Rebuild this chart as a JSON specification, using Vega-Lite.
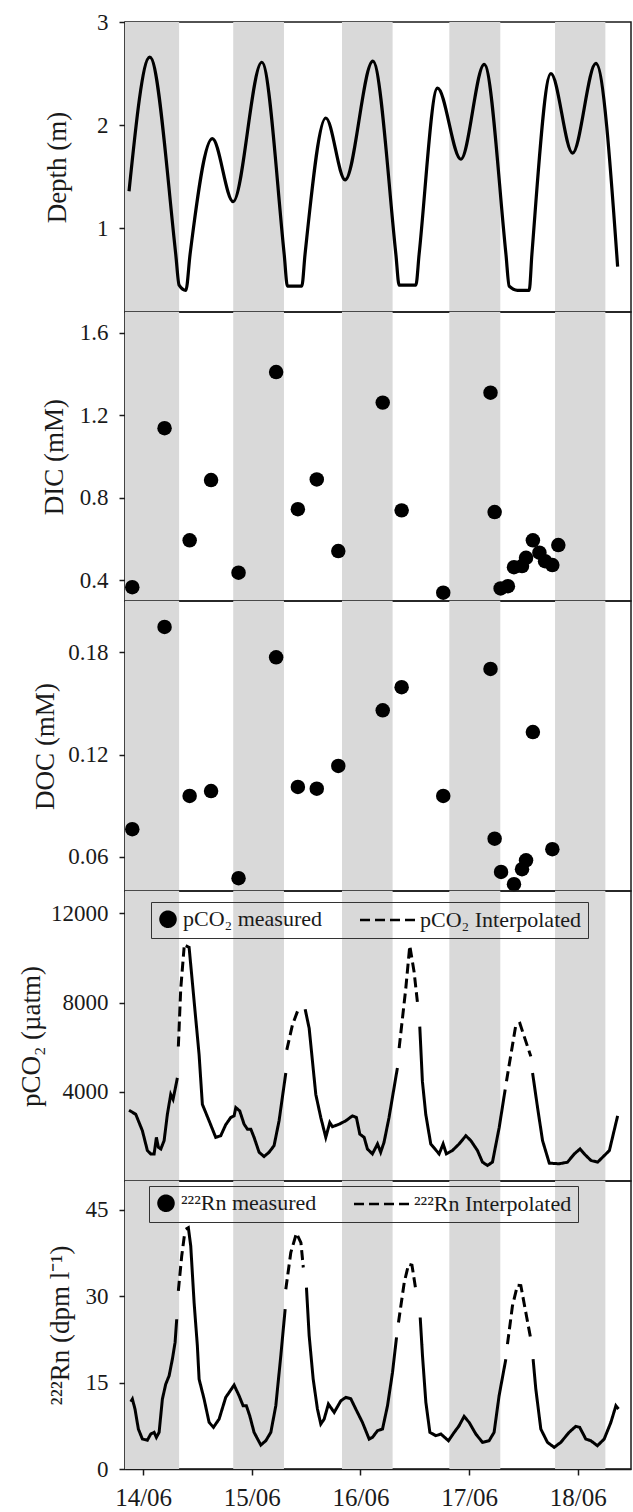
{
  "$schema": "https://vega.github.io/schema/vega-lite/v6.json",
  "autosize": {"type": "pad"},
  "padding": {"left": 16, "top": 10, "right": 0, "bottom": 0},
  "background": "white",
  "bounds": "flush",
  "spacing": 0,
  "resolve": {"scale": {"x": "independent", "y": "independent", "strokeDash": "independent"}, "legend": {"strokeDash": "independent"}},
  "datasets": {
    "bands": [
      {"start": 13.833, "end": 14.331},
      {"start": 14.829, "end": 15.296},
      {"start": 15.830, "end": 16.296},
      {"start": 16.818, "end": 17.287},
      {"start": 17.791, "end": 18.254}
    ],
    "depth": [
      {"day": 13.87, "depth": 1.36}, {"day": 14.061, "depth": 2.66}, {"day": 14.30, "depth": 0.75},
      {"day": 14.331, "depth": 0.45}, {"day": 14.393, "depth": 0.40}, {"day": 14.432, "depth": 0.75},
      {"day": 14.637, "depth": 1.87}, {"day": 14.828, "depth": 1.26}, {"day": 15.092, "depth": 2.61},
      {"day": 15.298, "depth": 0.75}, {"day": 15.328, "depth": 0.44}, {"day": 15.46, "depth": 0.44},
      {"day": 15.49, "depth": 0.75}, {"day": 15.681, "depth": 2.07}, {"day": 15.859, "depth": 1.47},
      {"day": 16.114, "depth": 2.62}, {"day": 16.326, "depth": 0.75}, {"day": 16.356, "depth": 0.45},
      {"day": 16.51, "depth": 0.45}, {"day": 16.54, "depth": 0.75}, {"day": 16.709, "depth": 2.36},
      {"day": 16.924, "depth": 1.67}, {"day": 17.139, "depth": 2.59}, {"day": 17.339, "depth": 0.75},
      {"day": 17.369, "depth": 0.44}, {"day": 17.446, "depth": 0.40}, {"day": 17.553, "depth": 0.40},
      {"day": 17.578, "depth": 0.75}, {"day": 17.753, "depth": 2.50}, {"day": 17.952, "depth": 1.73},
      {"day": 18.167, "depth": 2.60}, {"day": 18.367, "depth": 0.63}
    ],
    "dic": [
      {"day": 13.900, "dic": 0.367}, {"day": 14.197, "dic": 1.137}, {"day": 14.428, "dic": 0.594},
      {"day": 14.625, "dic": 0.886}, {"day": 14.878, "dic": 0.437}, {"day": 15.224, "dic": 1.409},
      {"day": 15.424, "dic": 0.745}, {"day": 15.598, "dic": 0.889}, {"day": 15.796, "dic": 0.542},
      {"day": 16.205, "dic": 1.261}, {"day": 16.379, "dic": 0.739}, {"day": 16.762, "dic": 0.340},
      {"day": 17.197, "dic": 1.309}, {"day": 17.235, "dic": 0.731}, {"day": 17.290, "dic": 0.361},
      {"day": 17.357, "dic": 0.372}, {"day": 17.413, "dic": 0.464}, {"day": 17.487, "dic": 0.469},
      {"day": 17.524, "dic": 0.509}, {"day": 17.587, "dic": 0.594}, {"day": 17.647, "dic": 0.534},
      {"day": 17.699, "dic": 0.493}, {"day": 17.766, "dic": 0.474}, {"day": 17.821, "dic": 0.571}
    ],
    "doc": [
      {"day": 13.900, "doc": 0.0762}, {"day": 14.197, "doc": 0.1948}, {"day": 14.428, "doc": 0.0957},
      {"day": 14.625, "doc": 0.0986}, {"day": 14.878, "doc": 0.0475}, {"day": 15.224, "doc": 0.177},
      {"day": 15.424, "doc": 0.101}, {"day": 15.598, "doc": 0.100}, {"day": 15.796, "doc": 0.1133},
      {"day": 16.205, "doc": 0.1459}, {"day": 16.379, "doc": 0.1595}, {"day": 16.762, "doc": 0.0957},
      {"day": 17.197, "doc": 0.1702}, {"day": 17.235, "doc": 0.0707}, {"day": 17.294, "doc": 0.0512},
      {"day": 17.413, "doc": 0.044}, {"day": 17.487, "doc": 0.0528}, {"day": 17.524, "doc": 0.058},
      {"day": 17.587, "doc": 0.1332}, {"day": 17.766, "doc": 0.0645}
    ],
    "pco2": [
      {"day": 13.870, "v": 3170, "kind": "measured", "seg": 1},
      {"day": 13.932, "v": 2990, "kind": "measured", "seg": 1},
      {"day": 13.993, "v": 2254, "kind": "measured", "seg": 1},
      {"day": 14.039, "v": 1365, "kind": "measured", "seg": 1},
      {"day": 14.070, "v": 1214, "kind": "measured", "seg": 1},
      {"day": 14.101, "v": 1214, "kind": "measured", "seg": 1},
      {"day": 14.122, "v": 1956, "kind": "measured", "seg": 1},
      {"day": 14.140, "v": 1512, "kind": "measured", "seg": 1},
      {"day": 14.163, "v": 1437, "kind": "measured", "seg": 1},
      {"day": 14.193, "v": 1810, "kind": "measured", "seg": 1},
      {"day": 14.223, "v": 2990, "kind": "measured", "seg": 1},
      {"day": 14.254, "v": 3880, "kind": "measured", "seg": 1},
      {"day": 14.275, "v": 3659, "kind": "measured", "seg": 1},
      {"day": 14.294, "v": 4103, "kind": "measured", "seg": 1},
      {"day": 14.315, "v": 4623, "kind": "measured", "seg": 1},
      {"day": 14.324, "v": 6030, "kind": "Interpolated", "seg": 2},
      {"day": 14.346, "v": 8622, "kind": "Interpolated", "seg": 2},
      {"day": 14.377, "v": 10476, "kind": "Interpolated", "seg": 2},
      {"day": 14.392, "v": 10547, "kind": "measured", "seg": 3},
      {"day": 14.423, "v": 10476, "kind": "measured", "seg": 3},
      {"day": 14.515, "v": 5658, "kind": "measured", "seg": 3},
      {"day": 14.545, "v": 3437, "kind": "measured", "seg": 3},
      {"day": 14.607, "v": 2698, "kind": "measured", "seg": 3},
      {"day": 14.668, "v": 1956, "kind": "measured", "seg": 3},
      {"day": 14.714, "v": 2030, "kind": "measured", "seg": 3},
      {"day": 14.760, "v": 2521, "kind": "measured", "seg": 3},
      {"day": 14.806, "v": 2845, "kind": "measured", "seg": 3},
      {"day": 14.837, "v": 2920, "kind": "measured", "seg": 3},
      {"day": 14.853, "v": 3290, "kind": "measured", "seg": 3},
      {"day": 14.889, "v": 3142, "kind": "measured", "seg": 3},
      {"day": 14.929, "v": 2547, "kind": "measured", "seg": 3},
      {"day": 14.960, "v": 2325, "kind": "measured", "seg": 3},
      {"day": 14.991, "v": 2325, "kind": "measured", "seg": 3},
      {"day": 15.021, "v": 1956, "kind": "measured", "seg": 3},
      {"day": 15.067, "v": 1289, "kind": "measured", "seg": 3},
      {"day": 15.113, "v": 1098, "kind": "measured", "seg": 3},
      {"day": 15.159, "v": 1289, "kind": "measured", "seg": 3},
      {"day": 15.205, "v": 1586, "kind": "measured", "seg": 3},
      {"day": 15.251, "v": 2698, "kind": "measured", "seg": 3},
      {"day": 15.313, "v": 4845, "kind": "measured", "seg": 3},
      {"day": 15.322, "v": 5880, "kind": "Interpolated", "seg": 4},
      {"day": 15.374, "v": 6994, "kind": "Interpolated", "seg": 4},
      {"day": 15.436, "v": 7809, "kind": "Interpolated", "seg": 4},
      {"day": 15.491, "v": 7702, "kind": "measured", "seg": 5},
      {"day": 15.528, "v": 6845, "kind": "measured", "seg": 5},
      {"day": 15.589, "v": 3880, "kind": "measured", "seg": 5},
      {"day": 15.635, "v": 2845, "kind": "measured", "seg": 5},
      {"day": 15.681, "v": 1956, "kind": "measured", "seg": 5},
      {"day": 15.718, "v": 2623, "kind": "measured", "seg": 5},
      {"day": 15.742, "v": 2432, "kind": "measured", "seg": 5},
      {"day": 15.804, "v": 2547, "kind": "measured", "seg": 5},
      {"day": 15.865, "v": 2698, "kind": "measured", "seg": 5},
      {"day": 15.926, "v": 2920, "kind": "measured", "seg": 5},
      {"day": 15.963, "v": 2845, "kind": "measured", "seg": 5},
      {"day": 15.994, "v": 2104, "kind": "measured", "seg": 5},
      {"day": 16.034, "v": 1956, "kind": "measured", "seg": 5},
      {"day": 16.064, "v": 1437, "kind": "measured", "seg": 5},
      {"day": 16.110, "v": 1214, "kind": "measured", "seg": 5},
      {"day": 16.157, "v": 1660, "kind": "measured", "seg": 5},
      {"day": 16.186, "v": 1289, "kind": "measured", "seg": 5},
      {"day": 16.217, "v": 1734, "kind": "measured", "seg": 5},
      {"day": 16.263, "v": 2845, "kind": "measured", "seg": 5},
      {"day": 16.340, "v": 5067, "kind": "measured", "seg": 5},
      {"day": 16.356, "v": 5956, "kind": "Interpolated", "seg": 6},
      {"day": 16.417, "v": 8622, "kind": "Interpolated", "seg": 6},
      {"day": 16.454, "v": 10547, "kind": "Interpolated", "seg": 6},
      {"day": 16.494, "v": 9365, "kind": "Interpolated", "seg": 6},
      {"day": 16.524, "v": 8031, "kind": "Interpolated", "seg": 6},
      {"day": 16.546, "v": 6920, "kind": "measured", "seg": 7},
      {"day": 16.570, "v": 4476, "kind": "measured", "seg": 7},
      {"day": 16.601, "v": 2990, "kind": "measured", "seg": 7},
      {"day": 16.647, "v": 1660, "kind": "measured", "seg": 7},
      {"day": 16.724, "v": 1214, "kind": "measured", "seg": 7},
      {"day": 16.761, "v": 1660, "kind": "measured", "seg": 7},
      {"day": 16.791, "v": 1214, "kind": "measured", "seg": 7},
      {"day": 16.846, "v": 1365, "kind": "measured", "seg": 7},
      {"day": 16.908, "v": 1660, "kind": "measured", "seg": 7},
      {"day": 16.970, "v": 2030, "kind": "measured", "seg": 7},
      {"day": 17.016, "v": 1810, "kind": "measured", "seg": 7},
      {"day": 17.077, "v": 1365, "kind": "measured", "seg": 7},
      {"day": 17.123, "v": 845, "kind": "measured", "seg": 7},
      {"day": 17.169, "v": 697, "kind": "measured", "seg": 7},
      {"day": 17.215, "v": 845, "kind": "measured", "seg": 7},
      {"day": 17.277, "v": 2400, "kind": "measured", "seg": 7},
      {"day": 17.332, "v": 4103, "kind": "measured", "seg": 7},
      {"day": 17.344, "v": 4476, "kind": "Interpolated", "seg": 8},
      {"day": 17.430, "v": 6994, "kind": "Interpolated", "seg": 8},
      {"day": 17.467, "v": 7067, "kind": "Interpolated", "seg": 8},
      {"day": 17.568, "v": 5586, "kind": "Interpolated", "seg": 8},
      {"day": 17.584, "v": 4845, "kind": "measured", "seg": 9},
      {"day": 17.630, "v": 3290, "kind": "measured", "seg": 9},
      {"day": 17.676, "v": 1810, "kind": "measured", "seg": 9},
      {"day": 17.738, "v": 801, "kind": "measured", "seg": 9},
      {"day": 17.830, "v": 771, "kind": "measured", "seg": 9},
      {"day": 17.906, "v": 845, "kind": "measured", "seg": 9},
      {"day": 17.968, "v": 1214, "kind": "measured", "seg": 9},
      {"day": 18.021, "v": 1437, "kind": "measured", "seg": 9},
      {"day": 18.060, "v": 1214, "kind": "measured", "seg": 9},
      {"day": 18.122, "v": 919, "kind": "measured", "seg": 9},
      {"day": 18.183, "v": 845, "kind": "measured", "seg": 9},
      {"day": 18.229, "v": 1067, "kind": "measured", "seg": 9},
      {"day": 18.291, "v": 1365, "kind": "measured", "seg": 9},
      {"day": 18.367, "v": 2920, "kind": "measured", "seg": 9}
    ],
    "rn": [
      {"day": 13.886, "v": 11.67, "kind": "measured", "seg": 1},
      {"day": 13.901, "v": 12.14, "kind": "measured", "seg": 1},
      {"day": 13.925, "v": 10.41, "kind": "measured", "seg": 1},
      {"day": 13.956, "v": 6.94, "kind": "measured", "seg": 1},
      {"day": 13.993, "v": 5.2, "kind": "measured", "seg": 1},
      {"day": 14.039, "v": 5.0, "kind": "measured", "seg": 1},
      {"day": 14.070, "v": 6.07, "kind": "measured", "seg": 1},
      {"day": 14.101, "v": 6.36, "kind": "measured", "seg": 1},
      {"day": 14.122, "v": 5.5, "kind": "measured", "seg": 1},
      {"day": 14.147, "v": 6.36, "kind": "measured", "seg": 1},
      {"day": 14.177, "v": 12.14, "kind": "measured", "seg": 1},
      {"day": 14.208, "v": 14.74, "kind": "measured", "seg": 1},
      {"day": 14.239, "v": 16.18, "kind": "measured", "seg": 1},
      {"day": 14.269, "v": 19.07, "kind": "measured", "seg": 1},
      {"day": 14.294, "v": 21.97, "kind": "measured", "seg": 1},
      {"day": 14.309, "v": 26.0, "kind": "measured", "seg": 1},
      {"day": 14.324, "v": 30.92, "kind": "Interpolated", "seg": 2},
      {"day": 14.355, "v": 36.99, "kind": "Interpolated", "seg": 2},
      {"day": 14.383, "v": 41.04, "kind": "Interpolated", "seg": 2},
      {"day": 14.392, "v": 41.62, "kind": "measured", "seg": 3},
      {"day": 14.416, "v": 41.9, "kind": "measured", "seg": 3},
      {"day": 14.438, "v": 38.73, "kind": "measured", "seg": 3},
      {"day": 14.469, "v": 28.9, "kind": "measured", "seg": 3},
      {"day": 14.499, "v": 21.38, "kind": "measured", "seg": 3},
      {"day": 14.515, "v": 15.6, "kind": "measured", "seg": 3},
      {"day": 14.561, "v": 12.14, "kind": "measured", "seg": 3},
      {"day": 14.607, "v": 8.1, "kind": "measured", "seg": 3},
      {"day": 14.647, "v": 7.23, "kind": "measured", "seg": 3},
      {"day": 14.699, "v": 8.67, "kind": "measured", "seg": 3},
      {"day": 14.760, "v": 12.43, "kind": "measured", "seg": 3},
      {"day": 14.837, "v": 14.57, "kind": "measured", "seg": 3},
      {"day": 14.883, "v": 12.72, "kind": "measured", "seg": 3},
      {"day": 14.920, "v": 10.98, "kind": "measured", "seg": 3},
      {"day": 14.950, "v": 10.98, "kind": "measured", "seg": 3},
      {"day": 14.981, "v": 9.24, "kind": "measured", "seg": 3},
      {"day": 15.021, "v": 6.36, "kind": "measured", "seg": 3},
      {"day": 15.083, "v": 4.16, "kind": "measured", "seg": 3},
      {"day": 15.129, "v": 4.91, "kind": "measured", "seg": 3},
      {"day": 15.175, "v": 6.36, "kind": "measured", "seg": 3},
      {"day": 15.221, "v": 10.98, "kind": "measured", "seg": 3},
      {"day": 15.267, "v": 19.65, "kind": "measured", "seg": 3},
      {"day": 15.307, "v": 27.75, "kind": "measured", "seg": 3},
      {"day": 15.313, "v": 31.21, "kind": "Interpolated", "seg": 4},
      {"day": 15.359, "v": 37.58, "kind": "Interpolated", "seg": 4},
      {"day": 15.411, "v": 40.93, "kind": "Interpolated", "seg": 4},
      {"day": 15.452, "v": 39.31, "kind": "Interpolated", "seg": 4},
      {"day": 15.474, "v": 34.98, "kind": "Interpolated", "seg": 4},
      {"day": 15.503, "v": 31.5, "kind": "measured", "seg": 5},
      {"day": 15.528, "v": 23.12, "kind": "measured", "seg": 5},
      {"day": 15.565, "v": 15.6, "kind": "measured", "seg": 5},
      {"day": 15.604, "v": 10.41, "kind": "measured", "seg": 5},
      {"day": 15.635, "v": 7.8, "kind": "measured", "seg": 5},
      {"day": 15.666, "v": 8.67, "kind": "measured", "seg": 5},
      {"day": 15.705, "v": 11.27, "kind": "measured", "seg": 5},
      {"day": 15.758, "v": 9.83, "kind": "measured", "seg": 5},
      {"day": 15.820, "v": 11.85, "kind": "measured", "seg": 5},
      {"day": 15.865, "v": 12.43, "kind": "measured", "seg": 5},
      {"day": 15.911, "v": 12.2, "kind": "measured", "seg": 5},
      {"day": 15.957, "v": 10.41, "kind": "measured", "seg": 5},
      {"day": 16.018, "v": 8.1, "kind": "measured", "seg": 5},
      {"day": 16.080, "v": 5.2, "kind": "measured", "seg": 5},
      {"day": 16.111, "v": 5.5, "kind": "measured", "seg": 5},
      {"day": 16.157, "v": 6.65, "kind": "measured", "seg": 5},
      {"day": 16.203, "v": 6.94, "kind": "measured", "seg": 5},
      {"day": 16.249, "v": 10.98, "kind": "measured", "seg": 5},
      {"day": 16.295, "v": 16.77, "kind": "measured", "seg": 5},
      {"day": 16.332, "v": 22.84, "kind": "measured", "seg": 5},
      {"day": 16.350, "v": 25.44, "kind": "Interpolated", "seg": 6},
      {"day": 16.403, "v": 32.38, "kind": "Interpolated", "seg": 6},
      {"day": 16.443, "v": 35.55, "kind": "Interpolated", "seg": 6},
      {"day": 16.474, "v": 35.4, "kind": "Interpolated", "seg": 6},
      {"day": 16.511, "v": 30.92, "kind": "Interpolated", "seg": 6},
      {"day": 16.550, "v": 26.3, "kind": "measured", "seg": 7},
      {"day": 16.571, "v": 19.65, "kind": "measured", "seg": 7},
      {"day": 16.602, "v": 11.57, "kind": "measured", "seg": 7},
      {"day": 16.639, "v": 6.36, "kind": "measured", "seg": 7},
      {"day": 16.694, "v": 5.78, "kind": "measured", "seg": 7},
      {"day": 16.740, "v": 6.07, "kind": "measured", "seg": 7},
      {"day": 16.810, "v": 4.91, "kind": "measured", "seg": 7},
      {"day": 16.863, "v": 6.36, "kind": "measured", "seg": 7},
      {"day": 16.908, "v": 7.51, "kind": "measured", "seg": 7},
      {"day": 16.954, "v": 9.13, "kind": "measured", "seg": 7},
      {"day": 17.000, "v": 8.1, "kind": "measured", "seg": 7},
      {"day": 17.062, "v": 6.07, "kind": "measured", "seg": 7},
      {"day": 17.123, "v": 4.63, "kind": "measured", "seg": 7},
      {"day": 17.184, "v": 4.91, "kind": "measured", "seg": 7},
      {"day": 17.230, "v": 6.36, "kind": "measured", "seg": 7},
      {"day": 17.276, "v": 12.72, "kind": "measured", "seg": 7},
      {"day": 17.338, "v": 19.07, "kind": "measured", "seg": 7},
      {"day": 17.353, "v": 21.68, "kind": "Interpolated", "seg": 8},
      {"day": 17.399, "v": 28.32, "kind": "Interpolated", "seg": 8},
      {"day": 17.445, "v": 31.91, "kind": "Interpolated", "seg": 8},
      {"day": 17.476, "v": 31.85, "kind": "Interpolated", "seg": 8},
      {"day": 17.522, "v": 27.17, "kind": "Interpolated", "seg": 8},
      {"day": 17.568, "v": 22.54, "kind": "Interpolated", "seg": 8},
      {"day": 17.589, "v": 19.07, "kind": "measured", "seg": 9},
      {"day": 17.614, "v": 13.87, "kind": "measured", "seg": 9},
      {"day": 17.660, "v": 6.94, "kind": "measured", "seg": 9},
      {"day": 17.721, "v": 4.63, "kind": "measured", "seg": 9},
      {"day": 17.783, "v": 3.76, "kind": "measured", "seg": 9},
      {"day": 17.844, "v": 4.63, "kind": "measured", "seg": 9},
      {"day": 17.920, "v": 6.36, "kind": "measured", "seg": 9},
      {"day": 17.982, "v": 7.41, "kind": "measured", "seg": 9},
      {"day": 18.018, "v": 7.23, "kind": "measured", "seg": 9},
      {"day": 18.074, "v": 5.2, "kind": "measured", "seg": 9},
      {"day": 18.120, "v": 4.91, "kind": "measured", "seg": 9},
      {"day": 18.181, "v": 4.04, "kind": "measured", "seg": 9},
      {"day": 18.243, "v": 5.2, "kind": "measured", "seg": 9},
      {"day": 18.305, "v": 8.1, "kind": "measured", "seg": 9},
      {"day": 18.351, "v": 10.98, "kind": "measured", "seg": 9},
      {"day": 18.375, "v": 10.41, "kind": "measured", "seg": 9}
    ]
  },
  "vconcat": [
    {
      "width": 506, "height": 290,
      "layer": [
        {"data": {"name": "bands"}, "mark": {"type": "rect", "color": "#d9d9d9"},
         "encoding": {"x": {"field": "start", "type": "quantitative", "scale": {"domain": [13.833, 18.49], "nice": false}, "axis": null}, "x2": {"field": "end"}}},
        {"data": {"name": "depth"}, "mark": {"type": "line", "color": "black", "strokeWidth": 3.2, "interpolate": "monotone"},
         "encoding": {
           "x": {"field": "day", "type": "quantitative", "scale": {"domain": [13.833, 18.49], "nice": false}, "axis": null},
           "y": {"field": "depth", "type": "quantitative", "scale": {"domain": [0.19, 3], "nice": false, "zero": false},
                 "axis": {"title": "Depth (m)", "values": [1, 2, 3], "format": "d", "titleX": -60}}
         }}
      ]
    },
    {
      "width": 506, "height": 289,
      "layer": [
        {"data": {"name": "bands"}, "mark": {"type": "rect", "color": "#d9d9d9"},
         "encoding": {"x": {"field": "start", "type": "quantitative", "scale": {"domain": [13.833, 18.49], "nice": false}, "axis": null}, "x2": {"field": "end"}}},
        {"data": {"name": "dic"}, "mark": {"type": "circle", "color": "black", "size": 210, "opacity": 1},
         "encoding": {
           "x": {"field": "day", "type": "quantitative", "scale": {"domain": [13.833, 18.49], "nice": false}, "axis": null},
           "y": {"field": "dic", "type": "quantitative", "scale": {"domain": [0.3, 1.7], "nice": false, "zero": false},
                 "axis": {"title": "DIC (mM)", "values": [0.4, 0.8, 1.2, 1.6], "format": ".1f", "titleX": -63}}
         }}
      ]
    },
    {
      "width": 506, "height": 290,
      "layer": [
        {"data": {"name": "bands"}, "mark": {"type": "rect", "color": "#d9d9d9"},
         "encoding": {"x": {"field": "start", "type": "quantitative", "scale": {"domain": [13.833, 18.49], "nice": false}, "axis": null}, "x2": {"field": "end"}}},
        {"data": {"name": "doc"}, "mark": {"type": "circle", "color": "black", "size": 210, "opacity": 1},
         "encoding": {
           "x": {"field": "day", "type": "quantitative", "scale": {"domain": [13.833, 18.49], "nice": false}, "axis": null},
           "y": {"field": "doc", "type": "quantitative", "scale": {"domain": [0.04, 0.21], "nice": false, "zero": false},
                 "axis": {"title": "DOC (mM)", "values": [0.06, 0.12, 0.18], "format": ".2f", "titleX": -72}}
         }}
      ]
    },
    {
      "width": 506, "height": 290,
      "layer": [
        {"data": {"name": "bands"}, "mark": {"type": "rect", "color": "#d9d9d9"},
         "encoding": {"x": {"field": "start", "type": "quantitative", "scale": {"domain": [13.833, 18.49], "nice": false}, "axis": null}, "x2": {"field": "end"}}},
        {"data": {"name": "pco2"}, "mark": {"type": "line", "color": "black", "strokeWidth": 3},
         "encoding": {
           "x": {"field": "day", "type": "quantitative", "scale": {"domain": [13.833, 18.49], "nice": false}, "axis": null},
           "y": {"field": "v", "type": "quantitative", "scale": {"domain": [0, 13000], "nice": false},
                 "axis": {"title": "pCO₂ (µatm)", "values": [4000, 8000, 12000], "format": "d", "titleX": -86}},
           "detail": {"field": "seg", "type": "nominal"},
           "strokeDash": {"field": "kind", "type": "nominal",
             "scale": {"domain": ["measured", "Interpolated"], "range": [[1, 0], [10, 5]]},
             "legend": {"orient": "none", "legendX": 26, "legendY": 11, "direction": "horizontal", "columns": 2,
               "title": null, "labelExpr": "'pCO₂ ' + datum.label",
               "strokeColor": "#333333", "padding": 6,
               "labelFont": "Liberation Serif", "labelFontSize": 22, "labelColor": "#1a1a1a", "labelOffset": 4, "labelLimit": 0,
               "columnPadding": 32, "symbolSize": 225, "symbolStrokeWidth": 2.5, "symbolStrokeColor": "black",
               "symbolType": {"expr": "datum.index === 0 ? 'circle' : 'M-6,0H1.8'"},
               "symbolFillColor": {"expr": "datum.index === 0 ? 'black' : 'transparent'"}}
           }
         }}
      ]
    },
    {
      "width": 506, "height": 288,
      "layer": [
        {"data": {"name": "bands"}, "mark": {"type": "rect", "color": "#d9d9d9"},
         "encoding": {"x": {"field": "start", "type": "quantitative", "scale": {"domain": [13.833, 18.49], "nice": false},
                            "axis": {"title": null, "values": [14, 15, 16, 17, 18], "labelExpr": "datum.value + '/06'", "labelFontSize": 25, "labelPadding": 10}},
                      "x2": {"field": "end"}}},
        {"data": {"name": "rn"}, "mark": {"type": "line", "color": "black", "strokeWidth": 3},
         "encoding": {
           "x": {"field": "day", "type": "quantitative", "scale": {"domain": [13.833, 18.49], "nice": false},
                 "axis": {"title": null, "values": [14, 15, 16, 17, 18], "labelExpr": "datum.value + '/06'", "labelFontSize": 25, "labelPadding": 10}},
           "y": {"field": "v", "type": "quantitative", "scale": {"domain": [0, 50], "nice": false},
                 "axis": {"title": "²²²Rn (dpm l⁻¹)", "values": [0, 15, 30, 45], "format": "d", "titleX": -57}},
           "detail": {"field": "seg", "type": "nominal"},
           "strokeDash": {"field": "kind", "type": "nominal",
             "scale": {"domain": ["measured", "Interpolated"], "range": [[1, 0], [10, 5]]},
             "legend": {"orient": "none", "legendX": 24, "legendY": 5, "direction": "horizontal", "columns": 2,
               "title": null, "labelExpr": "'²²²Rn ' + datum.label",
               "strokeColor": "#333333", "padding": 6,
               "labelFont": "Liberation Serif", "labelFontSize": 22, "labelColor": "#1a1a1a", "labelOffset": 4, "labelLimit": 0,
               "columnPadding": 32, "symbolSize": 225, "symbolStrokeWidth": 2.5, "symbolStrokeColor": "black",
               "symbolType": {"expr": "datum.index === 0 ? 'circle' : 'M-6,0H1.8'"},
               "symbolFillColor": {"expr": "datum.index === 0 ? 'black' : 'transparent'"}}
           }
         }}
      ]
    }
  ],
  "config": {
    "font": "Liberation Serif",
    "view": {"stroke": "#1a1a1a", "strokeWidth": 1.5},
    "axis": {
      "labelFont": "Liberation Serif", "labelFontSize": 23, "labelColor": "#1a1a1a",
      "titleFont": "Liberation Serif", "titleFontSize": 27, "titleFontWeight": "normal", "titleColor": "#1a1a1a",
      "titleBaseline": "alphabetic",
      "grid": false, "domainColor": "#1a1a1a", "domainWidth": 1.5,
      "tickColor": "#1a1a1a", "tickWidth": 1.5, "tickSize": 6,
      "labelPadding": 11, "labelFlush": false, "labelOverlap": false, "labelBound": false
    }
  }
}
